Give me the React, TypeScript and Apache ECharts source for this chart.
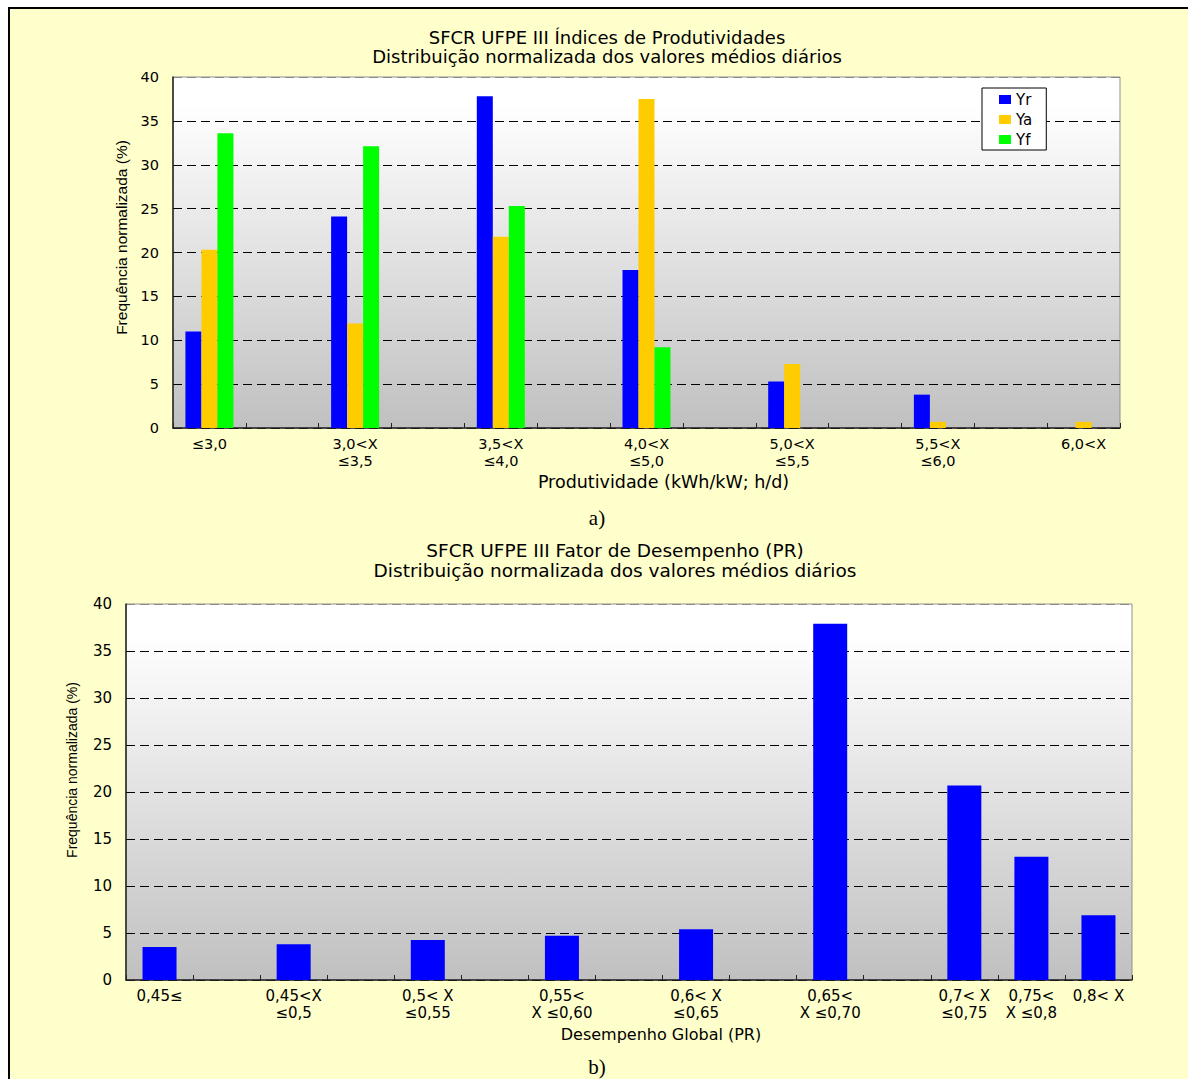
import React, { useEffect, useRef } from 'react';
import * as echarts from 'echarts';

// ---- Data: chart a) productivity indices ----
const yieldCategories = ['≤3,0', '3,0<X\n≤3,5', '3,5<X\n≤4,0', '4,0<X\n≤5,0', '5,0<X\n≤5,5', '5,5<X\n≤6,0', '6,0<X'];
const yrValues = [11.0, 24.1, 37.8, 18.0, 5.3, 3.8, 0];
const yaValues = [20.3, 11.9, 21.8, 37.5, 7.3, 0.7, 0.7];
const yfValues = [33.6, 32.1, 25.3, 9.2, 0, 0, 0];
const seriesNames = ['Yr', 'Ya', 'Yf'];

// ---- Data: chart b) performance ratio ----
const prCategories = ['0,45≤', '0,45<X\n≤0,5', '0,5< X\n≤0,55', '0,55<\nX ≤0,60', '0,6< X\n≤0,65', '0,65<\nX ≤0,70', '0,7< X\n≤0,75', '0,75<\nX ≤0,8', '0,8< X'];
const prValues = [3.5, 3.8, 4.25, 4.7, 5.4, 37.9, 20.7, 13.1, 6.9];
// empty slot after each category (axis spacing as in the original)
const prSpacerAfter = [true, true, true, true, true, true, false, false, false];

const yAxisMin = 0;
const yAxisMax = 40;
const yAxisStep = 5;

const titleA = 'SFCR UFPE III Índices de Produtividades\nDistribuição normalizada dos valores médios diários';
const titleB = 'SFCR UFPE III Fator de Desempenho (PR)\nDistribuição normalizada dos valores médios diários';
const yName = 'Frequência normalizada (%)';
const xNameA = 'Produtividade (kWh/kW; h/d)';
const xNameB = 'Desempenho Global (PR)';

const SANS = 'DejaVu Sans';
const NARROW = 'Liberation Sans';

function padYield<T>(arr: T[], blank: T): T[] {
  const out: T[] = [];
  arr.forEach((v, i) => {
    out.push(v);
    if (i < arr.length - 1) out.push(blank);
  });
  return out;
}

function padPR<T>(arr: T[], blank: T): T[] {
  const out: T[] = [];
  arr.forEach((v, i) => {
    out.push(v);
    if (prSpacerAfter[i]) out.push(blank);
  });
  return out;
}

const App: React.FC = () => {
  const ref = useRef<HTMLDivElement>(null);

  useEffect(() => {
    if (!ref.current) return;
    const chart = echarts.init(ref.current, undefined, { renderer: 'svg' });

    const bg = () =>
      new echarts.graphic.LinearGradient(0, 0, 0, 1, [
        { offset: 0, color: '#ffffff' },
        { offset: 0.08, color: '#ffffff' },
        { offset: 1, color: '#c0c0c0' },
      ]);

    const splitColors = ['#000', '#000', '#000', '#000', '#000', '#000', '#000', '#000', '#8a8a8a'];

    const valueAxis = (gridIndex: number, fontSize: number, nameSize: number, nameGap: number, namePadLeft: number) => ({
      type: 'value',
      gridIndex,
      min: yAxisMin,
      max: yAxisMax,
      interval: yAxisStep,
      name: yName,
      nameLocation: 'middle',
      nameGap,
      nameRotate: 90,
      nameTextStyle: { fontFamily: NARROW, fontSize: nameSize, color: '#000', padding: [0, 0, 0, namePadLeft] },
      axisLine: { show: true, lineStyle: { color: '#222', width: 1.5 } },
      axisTick: { show: false },
      axisLabel: { fontFamily: SANS, fontSize, color: '#000', margin: 14 },
      splitLine: { show: true, lineStyle: { color: splitColors, type: [9, 5], width: 1 } },
    });

    const catAxis = (gridIndex: number, data: string[], fontSize: number, name: string, nameSize: number, nameGap: number, namePadLeft: number) => ({
      type: 'category',
      gridIndex,
      data,
      name,
      nameLocation: 'middle',
      nameGap,
      nameTextStyle: { fontFamily: SANS, fontSize: nameSize, color: '#000', padding: [0, 0, 0, namePadLeft] },
      axisLine: { show: true, lineStyle: { color: '#222', width: 1.5 } },
      axisTick: { show: true, inside: true, interval: 0, length: 5, lineStyle: { color: '#222' } },
      axisLabel: { interval: 0, fontFamily: SANS, fontSize, lineHeight: 17, color: '#000', margin: 7 },
      splitLine: { show: false },
    });

    const colors = ['#0000ff', '#ffcc00', '#00ff00'];
    const yieldSeries = [yrValues, yaValues, yfValues].map((vals, i) => ({
      name: seriesNames[i],
      type: 'bar',
      xAxisIndex: 0,
      yAxisIndex: 0,
      barWidth: 16,
      barGap: '0%',
      itemStyle: { color: colors[i] },
      data: padYield<number | null>(vals, null),
    }));

    chart.setOption({
      animation: false,
      backgroundColor: 'transparent',
      title: [
        {
          text: titleA,
          left: 607,
          top: 28,
          padding: 0,
          textAlign: 'center',
          textStyle: { fontFamily: SANS, fontSize: 18, fontWeight: 'normal', lineHeight: 19, color: '#000' },
        },
        {
          text: titleB,
          left: 615,
          top: 540,
          padding: 0,
          textAlign: 'center',
          textStyle: { fontFamily: SANS, fontSize: 18.5, fontWeight: 'normal', lineHeight: 20, color: '#000' },
        },
      ],
      legend: {
        data: seriesNames,
        orient: 'vertical',
        left: 982,
        top: 88,
        padding: [4, 14, 3, 17],
        itemWidth: 12,
        itemHeight: 9,
        itemGap: 5,
        icon: 'rect',
        backgroundColor: '#ffffff',
        borderColor: '#000',
        borderWidth: 1,
        borderRadius: 0,
        textStyle: { fontFamily: SANS, fontSize: 15, lineHeight: 15, color: '#000' },
      },
      grid: [
        {
          left: 173, top: 77, width: 947, height: 351,
          show: true, backgroundColor: bg(), borderColor: '#909090', borderWidth: 1,
        },
        {
          left: 126, top: 604, width: 1006, height: 376,
          show: true, backgroundColor: bg(), borderColor: '#909090', borderWidth: 1,
        },
      ],
      xAxis: [
        catAxis(0, padYield<string>(yieldCategories, ''), 14.5, xNameA, 17.5, 45, 34),
        catAxis(1, padPR<string>(prCategories, ''), 15, xNameB, 16, 46, 64),
      ],
      yAxis: [valueAxis(0, 14.5, 15.5, 44, 30), valueAxis(1, 15, 14, 47, 44)],
      graphic: [
        {
          type: 'text', x: 597, y: 518,
          style: { text: 'a)', fontFamily: 'Liberation Serif', fontSize: 21, fill: '#000', textAlign: 'center', textVerticalAlign: 'middle' },
        },
        {
          type: 'text', x: 597, y: 1067,
          style: { text: 'b)', fontFamily: 'Liberation Serif', fontSize: 21, fill: '#000', textAlign: 'center', textVerticalAlign: 'middle' },
        },
      ],
      series: [
        ...yieldSeries,
        {
          name: 'PR',
          type: 'bar',
          xAxisIndex: 1,
          yAxisIndex: 1,
          barWidth: 34,
          itemStyle: { color: '#0000ff' },
          data: padPR<number | null>(prValues, null),
        },
      ],
    });

    return () => chart.dispose();
  }, []);

  return (
    <div style={{ position: 'fixed', left: 0, top: 0, width: 1188, height: 1079, overflow: 'hidden', background: '#ffffff' }}>
      <div
        style={{
          position: 'absolute', left: 8, top: 7, width: 1300, height: 1200,
          border: '2px solid #000', background: '#ffffcc',
        }}
      />
      <div ref={ref} style={{ position: 'absolute', left: 0, top: 0, width: 1188, height: 1079 }} />
    </div>
  );
};

export default App;
